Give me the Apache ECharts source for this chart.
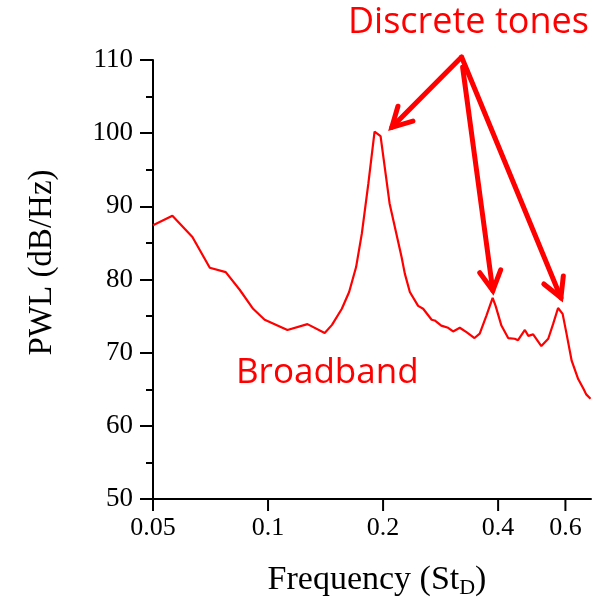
<!DOCTYPE html>
<html lang="en">
<head>
<meta charset="UTF-8">
<title>PWL spectrum</title>
<script src="https://cdn.jsdelivr.net/npm/echarts@6/dist/echarts.min.js"></script>
<style>
  html, body { margin: 0; padding: 0; background: #fff; }
  #main { width: 603px; height: 608px; }
</style>
</head>
<body>
<div id="main"></div>
<script>
// frequency (St_D) and PWL (dB/Hz)
var freq = [0.050, 0.0562, 0.0634, 0.0704, 0.0775, 0.0843, 0.0914, 0.098, 0.1124, 0.1268,
    0.1407, 0.147, 0.156, 0.163, 0.170, 0.176, 0.183, 0.190, 0.197, 0.208,
    0.2235, 0.228, 0.235, 0.247, 0.2546, 0.268, 0.273, 0.284, 0.296, 0.305,
    0.3175, 0.3306, 0.347, 0.358, 0.373, 0.387, 0.394, 0.408, 0.425, 0.442,
    0.451, 0.470, 0.480, 0.494, 0.519, 0.541, 0.557, 0.574, 0.590, 0.604,
    0.623, 0.648, 0.670, 0.680, 0.685, 0.698];
var pwl = [87.4, 88.7, 85.8, 81.6, 81.0, 78.6, 76.0, 74.5, 73.1, 73.9,
    72.7, 73.8, 76.0, 78.3, 81.7, 86.3, 93.1, 100.2, 99.6, 90.4,
    83.1, 80.8, 78.3, 76.4, 76.0, 74.5, 74.4, 73.7, 73.4, 72.9,
    73.4, 72.8, 72.0, 72.6, 75.1, 77.5, 76.4, 73.7, 72.0, 71.9,
    71.7, 73.1, 72.3, 72.5, 70.9, 71.9, 73.9, 76.1, 75.3, 72.6,
    68.9, 66.4, 65.0, 64.3, 64.4, 63.7];
var xTicks = [0.05, 0.1, 0.2, 0.4, 0.6];

// annotation arrows: common tail and the three tips, in data units
var arrowTails = [[0.321, 110.4], [0.323, 109.0], [0.321, 110.4]];
var arrowTips = [[0.2108, 100.8], [0.3874, 78.5], [0.584, 77.5]];

var chart = echarts.init(document.getElementById('main'));
var serif = 'Liberation Serif';

var option = {
    animation: false,
    backgroundColor: '#fff',
    grid: { left: 153, right: 12, top: 60, bottom: 109 },
    xAxis: {
        type: 'log',
        logBase: 10,
        min: 0.05,
        max: 0.7,
        name: 'Frequency (St{sub|D})',
        nameLocation: 'middle',
        nameGap: 62,
        nameTextStyle: {
            fontFamily: serif, fontSize: 34, color: '#000', padding: [0, 0, 0, 10],
            rich: { sub: { fontFamily: serif, fontSize: 22, color: '#000', padding: [16, 0, 0, 0] } }
        },
        axisLine: { lineStyle: { color: '#000', width: 2 } },
        // custom tick marks on the log axis are added below
        axisTick: { show: false },
        axisLabel: {
            customValues: xTicks,
            fontFamily: serif, fontSize: 26, color: '#000', margin: 16,
            formatter: function (v) { return String(+v.toPrecision(2)); }
        },
        splitLine: { show: false },
        minorTick: { show: false }
    },
    yAxis: {
        type: 'value',
        min: 50,
        max: 110,
        interval: 10,
        name: 'PWL (dB/Hz)',
        nameLocation: 'middle',
        nameGap: 94,
        nameTextStyle: { fontFamily: serif, fontSize: 33, color: '#000', padding: [0, 0, 0, 34] },
        axisLine: { show: true, lineStyle: { color: '#000', width: 2 } },
        axisTick: { show: true, length: 13, lineStyle: { width: 2, color: '#000' } },
        minorTick: { show: true, splitNumber: 2, length: 7, lineStyle: { width: 2, color: '#000' } },
        axisLabel: { fontFamily: serif, fontSize: 27, color: '#000', margin: 20 },
        splitLine: { show: false }
    },
    series: [{
        type: 'line',
        data: freq.map(function (f, i) { return [f, pwl[i]]; }),
        showSymbol: false,
        lineStyle: { color: '#ff0000', width: 2.2 },
        itemStyle: { color: '#ff0000' }
    }],
    graphic: [
        { type: 'text', left: 348, top: 5,
          style: { text: 'Discrete tones', font: '36px "Open Sans"', fill: '#ff0000' } },
        { type: 'text', left: 236, top: 356,
          style: { text: 'Broadband', font: '35px "Open Sans"', fill: '#ff0000' } }
    ]
};
chart.setOption(option);

var extra = [];

// x tick marks at the labelled frequencies
xTicks.forEach(function (v) {
    var p = chart.convertToPixel({ gridIndex: 0 }, [v, 50]);
    extra.push({ type: 'line', shape: { x1: p[0], y1: p[1], x2: p[0], y2: p[1] + 12 },
        style: { stroke: '#000', lineWidth: 2 }, z: 50 });
});

// arrows
arrowTips.forEach(function (tip, i) {
    var a = chart.convertToPixel({ gridIndex: 0 }, arrowTails[i]);
    var b = chart.convertToPixel({ gridIndex: 0 }, tip);
    var ang = Math.atan2(b[1] - a[1], b[0] - a[0]);
    var len = 22, spread = 0.5;
    var h1 = [b[0] - len * Math.cos(ang - spread), b[1] - len * Math.sin(ang - spread)];
    var h2 = [b[0] - len * Math.cos(ang + spread), b[1] - len * Math.sin(ang + spread)];
    var st = { stroke: '#ff0000', lineWidth: 5, fill: null, lineCap: 'round', lineJoin: 'miter' };
    extra.push({ type: 'polyline', shape: { points: [a, b] }, style: st, z: 100 });
    extra.push({ type: 'polyline', shape: { points: [h1, b, h2] }, style: st, z: 100 });
});
chart.setOption({ graphic: option.graphic.concat(extra) });
</script>
</body>
</html>
